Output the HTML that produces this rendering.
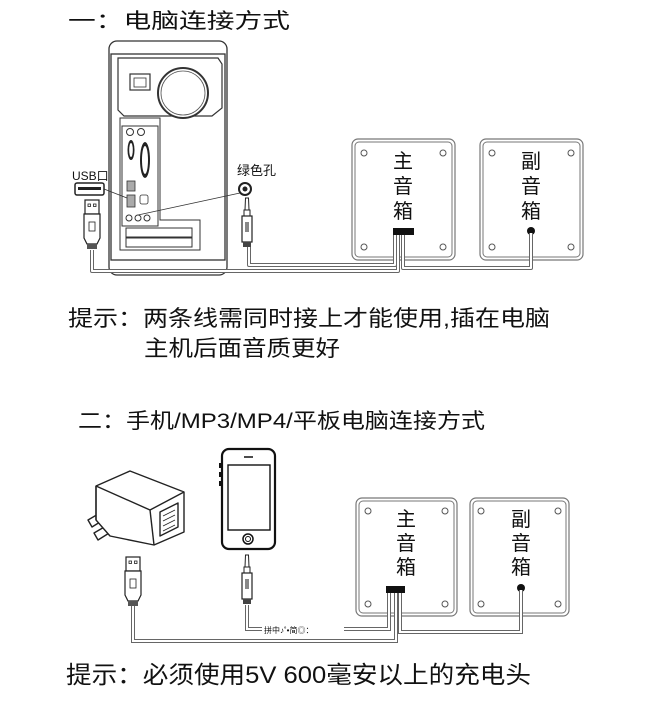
<!DOCTYPE html>
<html><head><meta charset="utf-8"><style>
html,body{margin:0;padding:0;background:#fff;}
svg{display:block;}
text{font-family:"Liberation Sans","Noto Sans CJK SC",sans-serif;fill:#111;}
</style></head><body>
<svg width="648" height="713" viewBox="0 0 648 713" xmlns="http://www.w3.org/2000/svg">
<defs>
<g id="usbplug">
  <rect x="-7" y="0" width="14" height="14" fill="#fff" stroke="#222" stroke-width="1.2"/>
  <rect x="-4" y="4" width="2.5" height="2.5" fill="none" stroke="#222" stroke-width="0.8"/>
  <rect x="1.5" y="4" width="2.5" height="2.5" fill="none" stroke="#222" stroke-width="0.8"/>
  <path d="M-8,14 L8,14 L8,38 L5,44 L-5,44 L-8,38 Z" fill="#fff" stroke="#222" stroke-width="1.2"/>
  <rect x="-3" y="22" width="6" height="9" fill="#fff" stroke="#222" stroke-width="0.8"/>
  <rect x="-5" y="44" width="10" height="5" fill="#555"/>
</g>
<g id="jack">
  <path d="M-1.5,0 L1.5,0 L2,12 L-2,12 Z" fill="#fff" stroke="#222" stroke-width="1"/>
  <rect x="-3" y="12" width="6" height="6" fill="#fff" stroke="#222" stroke-width="1"/>
  <rect x="-5" y="18" width="10" height="26" fill="#fff" stroke="#222" stroke-width="1.2"/>
  <rect x="-2" y="24" width="4" height="10" fill="#888"/>
  <rect x="-4" y="44" width="8" height="5" fill="#444"/>
</g>
</defs>

<text x="68" y="28" font-size="21" textLength="222" lengthAdjust="spacingAndGlyphs">一：电脑连接方式</text>
<text x="68" y="326" font-size="22" textLength="482" lengthAdjust="spacingAndGlyphs">提示：两条线需同时接上才能使用,插在电脑</text>
<text x="144" y="356" font-size="22" textLength="196" lengthAdjust="spacingAndGlyphs">主机后面音质更好</text>
<text x="78" y="428" font-size="21" textLength="407" lengthAdjust="spacingAndGlyphs">二：手机/MP3/MP4/平板电脑连接方式</text>
<text x="66" y="683" font-size="24" textLength="465" lengthAdjust="spacingAndGlyphs">提示：必须使用5V 600毫安以上的充电头</text>

<rect x="109" y="41" width="118" height="234" rx="8" fill="#fff" stroke="#333" stroke-width="1.3"/>
<rect x="111" y="54" width="114" height="206" fill="#fff" stroke="#333" stroke-width="1.3"/>
<path d="M118,58 L218,58 L222,64 L222,108 L212,116 L124,116 L118,110 Z" fill="#fff" stroke="#333" stroke-width="1.2"/>
<path d="M120,118 L160,118 L160,220 L200,220 L200,250 L120,250 Z" fill="none" stroke="#333" stroke-width="1"/>
<rect x="130" y="74" width="20" height="16" fill="#fff" stroke="#333" stroke-width="1.2"/>
<rect x="134" y="78" width="12" height="9" fill="none" stroke="#333" stroke-width="0.8"/>
<circle cx="183" cy="93" r="25" fill="#fff" stroke="#333" stroke-width="2"/>
<circle cx="183" cy="93" r="22" fill="none" stroke="#555" stroke-width="0.8"/>
<rect x="122" y="126" width="36" height="100" fill="#fff" stroke="#333" stroke-width="1"/>
<circle cx="130" cy="132" r="3.5" fill="#fff" stroke="#333"/>
<circle cx="141" cy="132" r="3.5" fill="#fff" stroke="#333"/>
<ellipse cx="131" cy="150" rx="3.5" ry="10" fill="#222"/>
<ellipse cx="131" cy="150" rx="1.8" ry="7" fill="#fff"/>
<ellipse cx="145" cy="160" rx="5" ry="18" fill="#222"/>
<ellipse cx="145" cy="160" rx="3" ry="14" fill="#fff"/>
<rect x="127" y="181" width="8" height="10" fill="#aaa" stroke="#333" stroke-width="0.8"/>
<rect x="127" y="195" width="8" height="12" fill="#aaa" stroke="#333" stroke-width="0.8"/>
<rect x="140" y="195" width="8" height="9" rx="2" fill="#fff" stroke="#333" stroke-width="0.8"/>
<circle cx="129" cy="218" r="3" fill="#fff" stroke="#333"/>
<circle cx="138" cy="218" r="3" fill="#fff" stroke="#333"/>
<circle cx="147" cy="218" r="3" fill="#fff" stroke="#333"/>
<rect x="126" y="228" width="66" height="9" fill="#fff" stroke="#333"/>
<rect x="126" y="238" width="66" height="9" fill="#fff" stroke="#333"/>
<line x1="104" y1="189" x2="127" y2="198" stroke="#333" stroke-width="0.8"/>
<line x1="138" y1="215" x2="240" y2="193" stroke="#333" stroke-width="0.8"/>

<text x="72" y="180" font-size="12">USB口</text>
<rect x="75" y="183" width="29" height="12" rx="2" fill="#fff" stroke="#222" stroke-width="1.5"/>
<rect x="78" y="187" width="23" height="3" fill="#222"/>
<text x="237" y="175" font-size="13">绿色孔</text>
<circle cx="245" cy="189" r="6" fill="#fff" stroke="#222" stroke-width="2"/>
<circle cx="245" cy="189" r="2.5" fill="#222"/>

<g fill="none" stroke-linejoin="round">
<path d="M92,250 L92,271 L398,271 L398,235" stroke="#666" stroke-width="4"/>
<path d="M92,250 L92,271 L398,271 L398,235" stroke="#fff" stroke-width="2"/>
<path d="M249,245 L249,265 L395,265 L395,235" stroke="#666" stroke-width="4"/>
<path d="M249,245 L249,265 L395,265 L395,235" stroke="#fff" stroke-width="2"/>
<path d="M531,233 L531,268 L403,268 L403,235" stroke="#666" stroke-width="4"/>
<path d="M531,233 L531,268 L403,268 L403,235" stroke="#fff" stroke-width="2"/>
</g>
<use href="#usbplug" x="92" y="200"/>
<use href="#jack" x="247" y="198"/>

<rect x="352" y="139" width="103" height="121" rx="6" fill="#fff" stroke="#777" stroke-width="1.2"/>
<rect x="355" y="142" width="97" height="115" rx="4" fill="none" stroke="#777" stroke-width="1"/>
<circle cx="364" cy="153" r="3" fill="none" stroke="#555"/><circle cx="443" cy="153" r="3" fill="none" stroke="#555"/>
<circle cx="364" cy="247" r="3" fill="none" stroke="#555"/><circle cx="443" cy="247" r="3" fill="none" stroke="#555"/>
<text x="403" y="168" font-size="20" text-anchor="middle">主</text>
<text x="403" y="193" font-size="20" text-anchor="middle">音</text>
<text x="403" y="218" font-size="20" text-anchor="middle">箱</text>
<rect x="393" y="228" width="21" height="7" fill="#111"/>
<rect x="480" y="139" width="103" height="121" rx="6" fill="#fff" stroke="#777" stroke-width="1.2"/>
<rect x="483" y="142" width="97" height="115" rx="4" fill="none" stroke="#777" stroke-width="1"/>
<circle cx="492" cy="153" r="3" fill="none" stroke="#555"/><circle cx="571" cy="153" r="3" fill="none" stroke="#555"/>
<circle cx="492" cy="247" r="3" fill="none" stroke="#555"/><circle cx="571" cy="247" r="3" fill="none" stroke="#555"/>
<text x="531" y="168" font-size="20" text-anchor="middle">副</text>
<text x="531" y="193" font-size="20" text-anchor="middle">音</text>
<text x="531" y="218" font-size="20" text-anchor="middle">箱</text>
<circle cx="531" cy="231" r="4" fill="#111"/>
<g fill="none">
<path d="M395,235 L395,262 M398,235 L398,262 M403,235 L403,262 M531,233 L531,262" stroke="#666" stroke-width="4"/>
<path d="M395,235 L395,262 M398,235 L398,262 M403,235 L403,262 M531,233 L531,262" stroke="#fff" stroke-width="2"/>
</g>

<!-- charger -->
<g fill="#fff" stroke="#222" stroke-width="1.4" stroke-linejoin="round">
<path d="M88,520 L112,506 L116,512 L92,527 Z"/>
<path d="M94,533 L118,519 L122,525 L98,540 Z"/>
<path d="M96,486 L130,471 L184,492 L184,532 L154,545 L110,536 L96,520 Z"/>
<path d="M96,486 L150,510 L184,492"/>
<path d="M150,510 L154,545"/>
<path d="M96,486 L96,520"/>
<path d="M160,512 L178,503 L178,527 L160,536 Z"/>
<path d="M163,516 L175,510 M163,521 L175,515 M163,526 L175,520 M163,531 L175,525" stroke-width="0.8"/>
</g>
<!-- phone -->
<rect x="222" y="449" width="53" height="100" rx="7" fill="#fff" stroke="#111" stroke-width="2.2"/>
<rect x="228" y="465" width="42" height="65" fill="#fff" stroke="#111" stroke-width="1.4"/>
<line x1="244" y1="457" x2="253" y2="457" stroke="#111" stroke-width="1.5"/>
<circle cx="248" cy="539" r="5" fill="#fff" stroke="#111" stroke-width="1.5"/>
<circle cx="248" cy="539" r="2.5" fill="none" stroke="#111" stroke-width="1"/>
<rect x="219" y="463" width="3" height="5" fill="#111"/><rect x="219" y="472" width="3" height="5" fill="#111"/><rect x="219" y="481" width="3" height="5" fill="#111"/>

<g fill="none">
<path d="M133,605 L133,641 L396,641 L396,592" stroke="#666" stroke-width="4"/>
<path d="M133,605 L133,641 L396,641 L396,592" stroke="#fff" stroke-width="2"/>
<path d="M247,605 L247,629 L389,629 L389,592" stroke="#666" stroke-width="4"/>
<path d="M247,605 L247,629 L389,629 L389,592" stroke="#fff" stroke-width="2"/>
<path d="M521,590 L521,632 L400,632 L400,592" stroke="#666" stroke-width="4"/>
<path d="M521,590 L521,632 L400,632 L400,592" stroke="#fff" stroke-width="2"/>
</g>
<rect x="262" y="624" width="82" height="10" fill="#fff"/>
<text x="264" y="633" font-size="8">拼中♪˚•简◎：</text>
<use href="#usbplug" x="133" y="557"/>
<use href="#jack" x="247" y="555"/>

<rect x="356" y="498" width="101" height="118" rx="6" fill="#fff" stroke="#777" stroke-width="1.2"/>
<rect x="359" y="501" width="95" height="112" rx="4" fill="none" stroke="#777" stroke-width="1"/>
<circle cx="368" cy="511" r="3" fill="none" stroke="#555"/><circle cx="445" cy="511" r="3" fill="none" stroke="#555"/>
<circle cx="368" cy="604" r="3" fill="none" stroke="#555"/><circle cx="445" cy="604" r="3" fill="none" stroke="#555"/>
<text x="406" y="526" font-size="20" text-anchor="middle">主</text>
<text x="406" y="550" font-size="20" text-anchor="middle">音</text>
<text x="406" y="574" font-size="20" text-anchor="middle">箱</text>
<rect x="386" y="586" width="19" height="7" fill="#111"/>
<rect x="470" y="498" width="99" height="118" rx="6" fill="#fff" stroke="#777" stroke-width="1.2"/>
<rect x="473" y="501" width="93" height="112" rx="4" fill="none" stroke="#777" stroke-width="1"/>
<circle cx="481" cy="511" r="3" fill="none" stroke="#555"/><circle cx="558" cy="511" r="3" fill="none" stroke="#555"/>
<circle cx="481" cy="604" r="3" fill="none" stroke="#555"/><circle cx="558" cy="604" r="3" fill="none" stroke="#555"/>
<text x="521" y="526" font-size="20" text-anchor="middle">副</text>
<text x="521" y="550" font-size="20" text-anchor="middle">音</text>
<text x="521" y="574" font-size="20" text-anchor="middle">箱</text>
<circle cx="521" cy="588" r="4" fill="#111"/>
<g fill="none">
<path d="M389,593 L389,618 M396,593 L396,618 M400,593 L400,618 M521,590 L521,618" stroke="#666" stroke-width="4"/>
<path d="M389,593 L389,618 M396,593 L396,618 M400,593 L400,618 M521,590 L521,618" stroke="#fff" stroke-width="2"/>
</g>
</svg>
</body></html>
